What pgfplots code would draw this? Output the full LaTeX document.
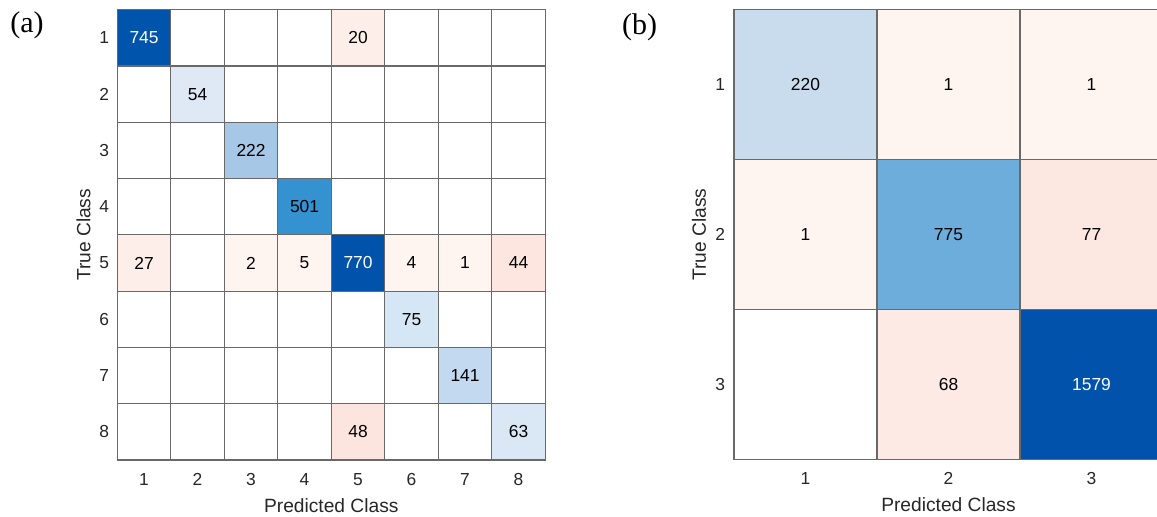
\documentclass[border=0pt]{standalone}
\usepackage{fontspec}
\setmainfont{Liberation Sans}
\newfontfamily\panelfont{Liberation Serif}
\usepackage{pgfplots}
\usepackage{pgfplotstable}
\pgfplotsset{compat=1.18}

\definecolor{linegray}{RGB}{105,105,105}
\definecolor{txtgray}{RGB}{38,38,38}

% Confusion counts: x = predicted class, y = true class, v = count
\pgfplotstableread[row sep=\\]{
x y v\\
1 1 745\\ 2 1 0\\ 3 1 0\\ 4 1 0\\ 5 1 20\\ 6 1 0\\ 7 1 0\\ 8 1 0\\
1 2 0\\ 2 2 54\\ 3 2 0\\ 4 2 0\\ 5 2 0\\ 6 2 0\\ 7 2 0\\ 8 2 0\\
1 3 0\\ 2 3 0\\ 3 3 222\\ 4 3 0\\ 5 3 0\\ 6 3 0\\ 7 3 0\\ 8 3 0\\
1 4 0\\ 2 4 0\\ 3 4 0\\ 4 4 501\\ 5 4 0\\ 6 4 0\\ 7 4 0\\ 8 4 0\\
1 5 27\\ 2 5 0\\ 3 5 2\\ 4 5 5\\ 5 5 770\\ 6 5 4\\ 7 5 1\\ 8 5 44\\
1 6 0\\ 2 6 0\\ 3 6 0\\ 4 6 0\\ 5 6 0\\ 6 6 75\\ 7 6 0\\ 8 6 0\\
1 7 0\\ 2 7 0\\ 3 7 0\\ 4 7 0\\ 5 7 0\\ 6 7 0\\ 7 7 141\\ 8 7 0\\
1 8 0\\ 2 8 0\\ 3 8 0\\ 4 8 0\\ 5 8 48\\ 6 8 0\\ 7 8 0\\ 8 8 63\\
}\confA

\pgfplotstableread[row sep=\\]{
x y v\\
1 1 220\\ 2 1 1\\ 3 1 1\\
1 2 1\\ 2 2 775\\ 3 2 77\\
1 3 0\\ 2 3 68\\ 3 3 1579\\
}\confB

\pgfplotsset{
  % shade scale: 100 = empty, above = correct (blue), below = wrong (red);
  % distance from 100 is 100*sqrt(count/max count)
  colormap={confshade}{
    rgb255(0pt)=(217,83,25)
    rgb255(75pt)=(252,229,222)
    rgb255(78pt)=(253,231,225)
    rgb255(79.3pt)=(253,234,228)
    rgb255(81.3pt)=(253,238,233)
    rgb255(84pt)=(253,238,233)
    rgb255(92pt)=(254,244,240)
    rgb255(98pt)=(254,244,240)
    rgb255(100pt)=(255,255,255)
    rgb255(126pt)=(224,233,246)
    rgb255(131pt)=(213,231,245)
    rgb255(137.3pt)=(201,220,238)
    rgb255(143pt)=(195,217,239)
    rgb255(153.7pt)=(166,200,230)
    rgb255(170pt)=(109,173,219)
    rgb255(180.6pt)=(53,146,208)
    rgb255(198pt)=(0,84,172)
    rgb255(200pt)=(0,82,170)
  },
  confchart/.style={
    scale only axis,
    axis on top,
    enlargelimits=false,
    colormap name=confshade,
    point meta min=0, point meta max=200,
    major tick length=0pt, minor tick length=0pt,
    xminorgrids=true, yminorgrids=true,
    minor grid style={linegray, line width=0.6pt},
    axis line style={linegray, line width=0.6pt},
    /pgf/number format/assume math mode=true,
    tick label style={font=\fontsize{8.7}{10}\selectfont, text=txtgray},
    label style={font=\fontsize{9.6}{11}\selectfont, text=txtgray},
    xticklabel style={anchor=base, yshift=-12.5pt},
    xlabel={Predicted Class},
    ylabel={True Class},
    xlabel style={at={(axis description cs:0.5,0)}, anchor=base, yshift=-26pt},
  },
  % printed counts; #1 = text colour
  cellnums/.style={
    only marks, mark=*, mark size=0pt,
    mark options={draw=none, fill=none},
    unbounded coords=discard,
    point meta=explicit symbolic,
    nodes near coords,
    nodes near coords align=center,
    every node near coord/.append style={font=\fontsize{8.7}{10}\selectfont, text=#1, anchor=center},
  },
}

\begin{document}
\begin{tikzpicture}
\useasboundingbox (0,0) rectangle (578.5pt,258pt);
\clip (0,0) rectangle (578.5pt,258pt);

\begin{axis}[
  confchart,
  at={(58.65pt,28pt)}, anchor=south west,
  width=214pt, height=225.15pt,
  xmin=0.5, xmax=8.5, ymin=-8.5, ymax=-0.5,
  xtick={1,...,8},
  minor xtick={1.5,2.5,...,7.5},
  ytick={-8,...,-1}, yticklabels={8,7,6,5,4,3,2,1},
  minor ytick={-7.5,-6.5,...,-1.5},
  yticklabel style={xshift=-0.65pt},
  ylabel style={at={(axis description cs:-0.079,0.5)}, anchor=center},
]
\addplot[matrix plot*, mesh/cols=8, point meta=explicit]
  table[x=x, y expr=-\thisrow{y},
        meta expr={100*(1+(2*(\thisrow{x}==\thisrow{y})-1)*sqrt(\thisrow{v}/770))}] {\confA};
\addplot[cellnums=black, y filter/.expression={(\thisrow{v}<1 || \thisrow{v}>616) ? nan : y}]
  table[x=x, y expr=-\thisrow{y}, meta=v] {\confA};
\addplot[cellnums=white, y filter/.expression={(\thisrow{v}>616) ? y : nan}]
  table[x=x, y expr=-\thisrow{y}, meta=v] {\confA};
\end{axis}

\begin{axis}[
  confchart,
  at={(367pt,28.25pt)}, anchor=south west,
  width=214.5pt, height=225pt,
  xmin=0.5, xmax=3.5, ymin=-3.5, ymax=-0.5,
  xtick={1,2,3},
  minor xtick={1.5,2.5},
  ytick={-3,-2,-1}, yticklabels={3,2,1},
  minor ytick={-2.5,-1.5},
  yticklabel style={xshift=-1pt},
  ylabel style={at={(axis description cs:-0.0816,0.5)}, anchor=center},
]
\addplot[matrix plot*, mesh/cols=3, point meta=explicit]
  table[x=x, y expr=-\thisrow{y},
        meta expr={100*(1+(2*(\thisrow{x}==\thisrow{y})-1)*sqrt(\thisrow{v}/1579))}] {\confB};
\addplot[cellnums=black, y filter/.expression={(\thisrow{v}<1 || \thisrow{v}>1263) ? nan : y}]
  table[x=x, y expr=-\thisrow{y}, meta=v] {\confB};
\addplot[cellnums=white, y filter/.expression={(\thisrow{v}>1263) ? y : nan}]
  table[x=x, y expr=-\thisrow{y}, meta=v] {\confB};
\end{axis}

\node[anchor=base west, inner sep=0pt, font=\panelfont\fontsize{15}{17}\selectfont] at (5pt,242pt) {(a)};
\node[anchor=base west, inner sep=0pt, font=\panelfont\fontsize{15}{17}\selectfont] at (310.85pt,241pt) {(b)};
\end{tikzpicture}
\end{document}
